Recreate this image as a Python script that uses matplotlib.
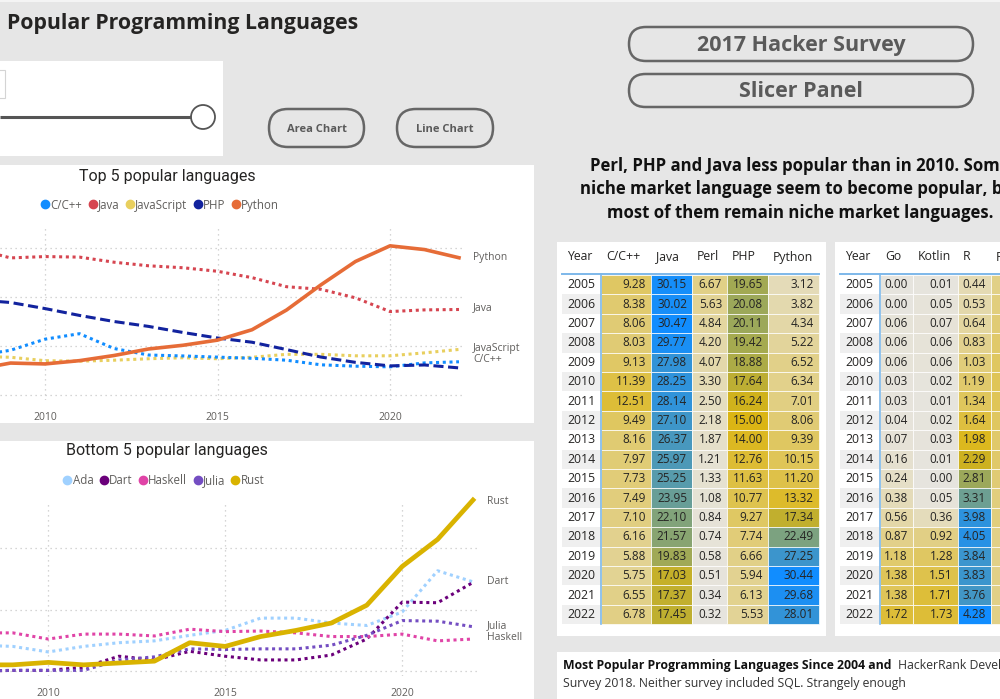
import numpy as np
import matplotlib
matplotlib.use("Agg")
import matplotlib.pyplot as plt
from matplotlib.patches import Rectangle, FancyBboxPatch, Circle
from matplotlib.lines import Line2D
from matplotlib.colors import to_rgb

plt.rcParams['font.family'] = ['Open Sans', 'DejaVu Sans']

# ---- data ----
years = list(range(2005, 2023))
cpp = [9.28, 8.38, 8.06, 8.03, 9.13, 11.39, 12.51, 9.49, 8.16, 7.97, 7.73, 7.49, 7.10, 6.16, 5.88, 5.75, 6.55, 6.78]
java = [30.15, 30.02, 30.47, 29.77, 27.98, 28.25, 28.14, 27.10, 26.37, 25.97, 25.25, 23.95, 22.10, 21.57, 19.83, 17.03, 17.37, 17.45]
perl = [6.67, 5.63, 4.84, 4.20, 4.07, 3.30, 2.50, 2.18, 1.87, 1.21, 1.33, 1.08, 0.84, 0.74, 0.58, 0.51, 0.34, 0.32]
php = [19.65, 20.08, 20.11, 19.42, 18.88, 17.64, 16.24, 15.00, 14.00, 12.76, 11.63, 10.77, 9.27, 7.74, 6.66, 5.94, 6.13, 5.53]
python = [3.12, 3.82, 4.34, 5.22, 6.52, 6.34, 7.01, 8.06, 9.39, 10.15, 11.20, 13.32, 17.34, 22.49, 27.25, 30.44, 29.68, 28.01]
javascript = [8.5, 8.4, 8.1, 7.9, 7.7, 7.0, 6.9, 7.1, 7.4, 7.6, 7.4, 7.7, 8.3, 8.3, 8.0, 8.0, 8.6, 9.3]

go = [0.00, 0.00, 0.06, 0.06, 0.06, 0.03, 0.03, 0.04, 0.07, 0.16, 0.24, 0.38, 0.56, 0.87, 1.18, 1.38, 1.38, 1.72]
kotlin = [0.01, 0.05, 0.07, 0.06, 0.06, 0.02, 0.01, 0.02, 0.03, 0.01, 0.00, 0.05, 0.36, 0.92, 1.28, 1.51, 1.71, 1.73]
r_lang = [0.44, 0.53, 0.64, 0.83, 1.03, 1.19, 1.34, 1.64, 1.98, 2.29, 2.81, 3.31, 3.98, 4.05, 3.84, 3.83, 3.76, 4.28]
ruby = [0.9, 1.0, 1.1, 1.2, 1.3, 1.4, 1.4, 1.3, 1.2, 1.2, 1.1, 1.0, 1.0, 0.9, 0.9, 0.9, 0.9, 0.9]

years_b = list(range(2008, 2023))
ada = [0.21, 0.20, 0.155, 0.20, 0.23, 0.245, 0.29, 0.33, 0.43, 0.43, 0.39, 0.37, 0.48, 0.815, 0.725]
dart = [0.0, 0.005, 0.005, 0.03, 0.12, 0.09, 0.16, 0.12, 0.09, 0.09, 0.13, 0.26, 0.56, 0.555, 0.72]
haskell = [0.31, 0.31, 0.26, 0.30, 0.30, 0.285, 0.34, 0.32, 0.325, 0.31, 0.28, 0.28, 0.30, 0.245, 0.26]
julia = [0.0, 0.005, 0.005, 0.005, 0.09, 0.115, 0.18, 0.175, 0.18, 0.18, 0.21, 0.29, 0.41, 0.405, 0.36]
rust = [0.05, 0.05, 0.07, 0.05, 0.065, 0.08, 0.23, 0.20, 0.28, 0.33, 0.39, 0.535, 0.85, 1.07, 1.39]

W, H = 1000, 699
BG = '#E6E6E6'
DARK = '#252423'
GREY = '#605E5C'

fig = plt.figure(figsize=(10, 6.99), dpi=100)
fig.patch.set_facecolor(BG)

# background axes in pixel coords (y down)
bg = fig.add_axes([0, 0, 1, 1])
bg.set_xlim(0, W)
bg.set_ylim(H, 0)
bg.axis('off')


def px_axes(x0, y0, x1, y1):
    return fig.add_axes([x0 / W, 1 - y1 / H, (x1 - x0) / W, (y1 - y0) / H])


def panel(x0, y0, x1, y1):
    bg.add_patch(Rectangle((x0, y0), x1 - x0, y1 - y0, facecolor='white', edgecolor='none'))


def pill(x0, y0, x1, y1, label, size):
    h = y1 - y0
    bg.add_patch(FancyBboxPatch((x0, y0), x1 - x0, h, boxstyle=f"round,pad=0,rounding_size={h/2}",
                                facecolor='none', edgecolor='#666666', linewidth=1.8))
    bg.text((x0 + x1) / 2, (y0 + y1) / 2 + 1, label, ha='center', va='center', fontsize=size,
            fontweight='bold', color='#5A5A5A')


bg.add_patch(Rectangle((0, 0), W, 2, facecolor='#F4F4F4', edgecolor='none'))

# header
bg.text(7, 23, 'Popular Programming Languages', fontsize=15.3, fontweight='bold', color=DARK,
        ha='left', va='center')

# slicer
panel(0, 61, 223, 156)
bg.add_patch(Rectangle((-20, 70), 25, 28, facecolor='white', edgecolor='#D4D4D4', linewidth=0.8))
bg.plot([0, 191], [117, 117], color='#555555', linewidth=2.2, solid_capstyle='butt')
bg.add_patch(Circle((203, 117), 12, facecolor='white', edgecolor='#555555', linewidth=1.3))

pill(269, 109, 364, 147, 'Area Chart', 8)
pill(397, 109, 493, 147, 'Line Chart', 8)
pill(629, 27, 973, 61, '2017 Hacker Survey', 15.5)
pill(629, 74, 973, 107, 'Slicer Panel', 15.5)

para = ['Perl, PHP and Java less popular than in 2010. Some',
        'niche market language seem to become popular, but',
        'most of them remain niche market languages.']
for i, line in enumerate(para):
    bg.text(800, 166 + i * 23.5, line, ha='center', va='center', fontsize=12.1, fontweight='bold', color='#111111')

# panels
panel(0, 165, 534, 423)
panel(0, 441, 534, H + 5)
panel(557, 242, 826, 636)
panel(835, 242, W + 5, 636)
panel(557, 652, W + 5, H + 5)


def style_chart(ax, yticks):
    ax.set_facecolor('none')
    for s in ax.spines.values():
        s.set_visible(False)
    ax.set_xticks([2010, 2015, 2020])
    ax.set_yticks(yticks)
    ax.grid(True, color='#C8C8C8', linestyle=(0, (1, 3)), linewidth=0.9)
    ax.tick_params(left=False, labelleft=False, bottom=False, labelsize=7.5, labelcolor=GREY, pad=5)


# ---- top chart ----
ax1 = px_axes(0, 227, 463, 400)
ax1.set_xlim(2022 - 459 / 34.5, 2022 + 4 / 34.5)
ax1.set_ylim((395 - 400) / 4.9, (395 - 227) / 4.9)
style_chart(ax1, [0, 10, 20, 30])

top_series = [
    ('C/C++', cpp, '#118DFF', (0, (1, 1.2)), 2.2),
    ('Java', java, '#D64550', (0, (1, 1.2)), 2.2),
    ('JavaScript', javascript, '#E8CF5E', (0, (1, 1.2)), 2.2),
    ('PHP', php, '#12239E', (0, (3.3, 1.5)), 2.2),
    ('Python', python, '#E66C37', '-', 2.6),
]
for name, vals, col, ls, lw in [top_series[i] for i in (2, 1, 0, 3, 4)]:
    ax1.plot(years, vals, color=col, linestyle=ls, linewidth=lw)

label_nudge = {'Python': 0, 'Java': 1, 'JavaScript': 1, 'C/C++': 2}
for name, vals, col, ls, lw in top_series:
    if name in label_nudge:
        ax1.annotate(name, (years[-1], vals[-1]), xytext=(10, label_nudge[name]), textcoords='offset points',
                     ha='left', va='center', fontsize=7.5, color=GREY, annotation_clip=False)

fig.text(167 / W, 1 - 176 / H, 'Top 5 popular languages', ha='center', va='center', fontsize=11.5,
         color=DARK, family=['Roboto', 'DejaVu Sans'])
h1 = [Line2D([], [], marker='o', linestyle='', color=c, markersize=6) for _, _, c, _, _ in top_series]
fig.legend(h1, [s[0] for s in top_series], loc='center left', bbox_to_anchor=(42 / W, 1 - 205 / H),
           ncol=5, frameon=False, fontsize=8.3, labelcolor=GREY, handlelength=0.6, handletextpad=0.15,
           columnspacing=0.6, borderpad=0, borderaxespad=0)

# ---- bottom chart ----
ax2 = px_axes(0, 502, 478, 676)
ax2.set_xlim(2022 - 473 / 35.4, 2022 + 5 / 35.4)
ax2.set_ylim((671 - 676) / 123, (671 - 502) / 123)
style_chart(ax2, [0, 0.5, 1.0])

bot_series = [
    ('Ada', ada, '#A0D1FF', (0, (1, 1.2)), 2.2),
    ('Dart', dart, '#6B007B', (0, (1, 1.2)), 2.2),
    ('Haskell', haskell, '#E044A7', (0, (1, 1.2)), 2.2),
    ('Julia', julia, '#744EC2', (0, (1, 1.2)), 2.2),
    ('Rust', rust, '#D9B300', '-', 3.4),
]
for name, vals, col, ls, lw in bot_series:
    ax2.plot(years_b, vals, color=col, linestyle=ls, linewidth=lw, clip_on=False)

label_nudge_b = {'Rust': -1, 'Dart': 1, 'Julia': 1, 'Haskell': 1}
for name, vals, col, ls, lw in bot_series:
    if name in label_nudge_b:
        ax2.annotate(name, (years_b[-1], vals[-1]), xytext=(10, label_nudge_b[name]), textcoords='offset points',
                     ha='left', va='center', fontsize=7.5, color=GREY, annotation_clip=False)

fig.text(167 / W, 1 - 451 / H, 'Bottom 5 popular languages', ha='center', va='center', fontsize=11.5,
         color=DARK, family=['Roboto', 'DejaVu Sans'])
h2 = [Line2D([], [], marker='o', linestyle='', color=c, markersize=6) for _, _, c, _, _ in bot_series]
fig.legend(h2, [s[0] for s in bot_series], loc='center left', bbox_to_anchor=(64 / W, 1 - 481 / H),
           ncol=5, frameon=False, fontsize=8.3, labelcolor=GREY, handlelength=0.6, handletextpad=0.15,
           columnspacing=0.6, borderpad=0, borderaxespad=0)


# ---- tables ----
def scale_color(v, vmin, vmax):
    t = (v - vmin) / (vmax - vmin)
    low, mid, high = np.array(to_rgb('#E6E4DE')), np.array(to_rgb('#DBB40F')), np.array(to_rgb('#118DFF'))
    if t < 0.5:
        return low + (mid - low) * t * 2
    return mid + (high - mid) * (t - 0.5) * 2


def draw_table(x_year, edges, cols, names):
    row_top, row_h = 275, 19.4
    allv = [v for c in cols for v in c]
    vmin, vmax = min(allv), max(allv)
    bg.text(x_year + 5, 257, 'Year', ha='left', va='center', fontsize=8.8, color=DARK)
    for j, nm in enumerate(names):
        bg.text(edges[j] + 5, 257, nm, ha='left', va='center', fontsize=8.8, color=DARK)
    for i, yr in enumerate(years):
        y = row_top + i * row_h
        bg.add_patch(Rectangle((x_year, y), edges[0] - x_year, row_h,
                               facecolor='white' if i % 2 == 0 else '#EFEFEF', edgecolor='none'))
        bg.text(x_year + 5, y + row_h / 2, str(yr), ha='left', va='center', fontsize=8.8, color=DARK)
        for j, c in enumerate(cols):
            bg.add_patch(Rectangle((edges[j], y), edges[j + 1] - edges[j], row_h,
                                   facecolor=scale_color(c[i], vmin, vmax), edgecolor='white', linewidth=0.5))
            if edges[j + 1] <= W:
                bg.text(edges[j + 1] - 5, y + row_h / 2, f'{c[i]:.2f}', ha='right', va='center',
                        fontsize=8.5, color=DARK)
    bottom = row_top + len(years) * row_h
    bg.plot([x_year, edges[-1]], [273.5, 273.5], color='#7DB8EA', linewidth=1.4)
    bg.plot([edges[0], edges[0]], [273.5, bottom], color='#7DB8EA', linewidth=1.2)


draw_table(562, [601, 651, 692, 727, 768, 819], [cpp, java, perl, php, python],
           ['C/C++', 'Java', 'Perl', 'PHP', 'Python'])
draw_table(840, [880, 913, 958, 991, 1040], [go, kotlin, r_lang, ruby],
           ['Go', 'Kotlin', 'R', 'Ruby'])

# ---- text box ----
fig.canvas.draw()
r = fig.canvas.get_renderer()
t1 = bg.text(563, 666, 'Most Popular Programming Languages Since 2004 and', ha='left', va='center',
             fontsize=8.8, fontweight='bold', color='#111111')
bb = t1.get_window_extent(renderer=r)
x_end = bb.x1 / fig.dpi / fig.get_size_inches()[0] * W
bg.text(x_end + 7, 666, 'HackerRank Developer Skills Report', ha='left', va='center', fontsize=8.8,
        color='#333333')
bg.text(563, 683, 'Survey 2018. Neither survey included SQL. Strangely enough', ha='left', va='center',
        fontsize=8.8, color='#333333')

fig.savefig('out.png', dpi=100, facecolor=BG)
